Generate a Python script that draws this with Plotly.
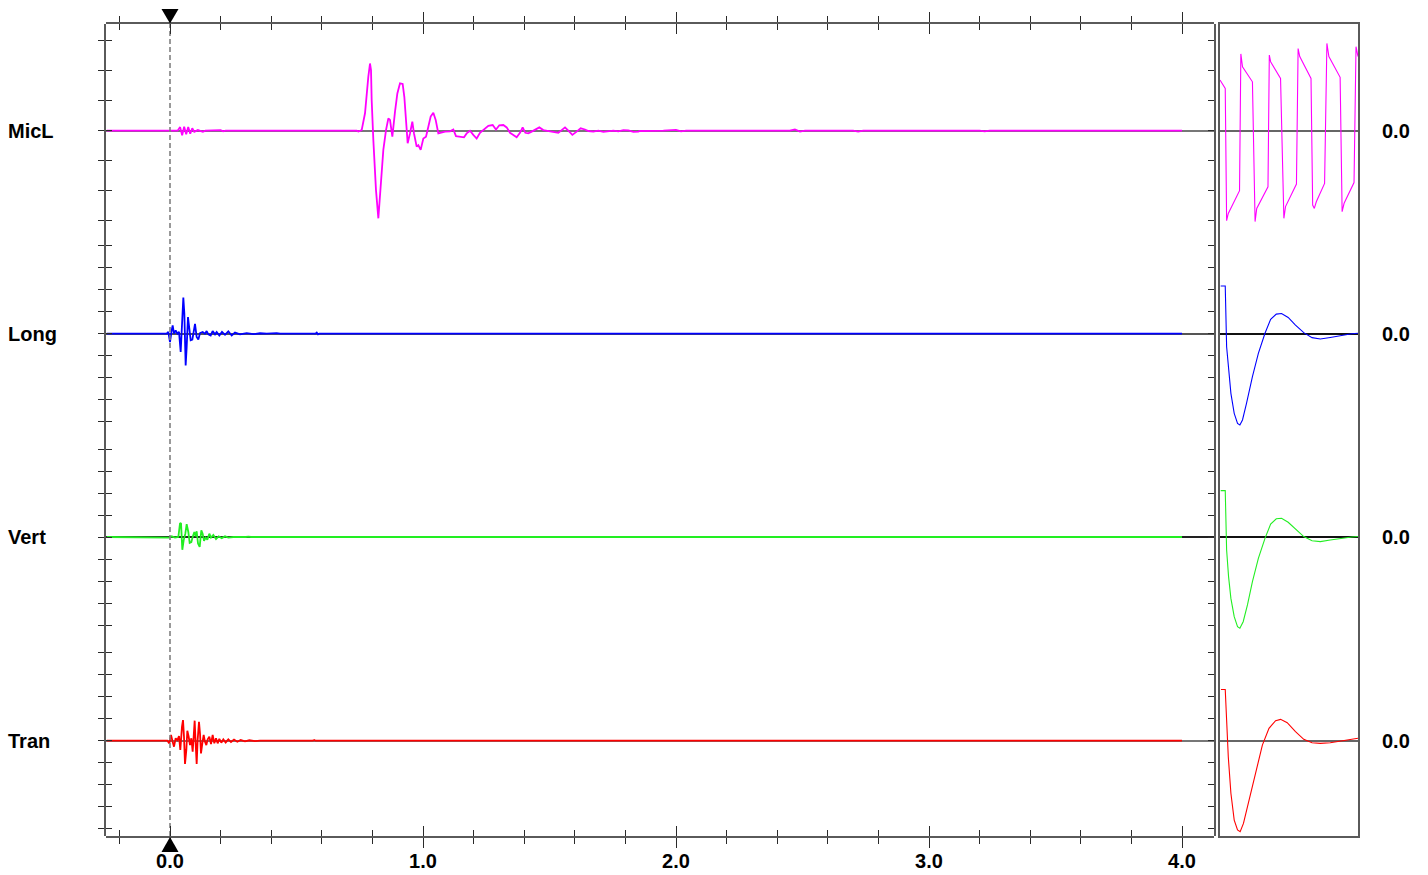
import plotly.graph_objects as go

# ---------------- data ----------------
channels = ["MicL", "Long", "Vert", "Tran"]
colors = ["#ff00ff", "#0000ff", "#22ee22", "#ff0000"]
x_ticks = [0, 1, 2, 3, 4]
x_tick_labels = ["0.0", "1.0", "2.0", "3.0", "4.0"]
right_labels = ["0.0", "0.0", "0.0", "0.0"]
cursor_t = 0.0

micl_t = [-0.25, 0.030, 0.040, 0.048, 0.056, 0.064, 0.072, 0.080, 0.088, 0.096, 0.110, 0.130, 0.140, 0.200, 0.210, 0.220,
          0.7378, 0.7444, 0.7576, 0.7708, 0.7839, 0.7905, 0.7945, 0.7971, 0.8037, 0.8142,
          0.8235, 0.8327, 0.8432, 0.8538, 0.8630, 0.8696, 0.8788, 0.8893, 0.8986, 0.9091,
          0.9196, 0.9262, 0.9328, 0.9394, 0.9486, 0.9578, 0.9644, 0.9750, 0.9816, 0.9908,
          1.0013, 1.0119, 1.0211, 1.0303, 1.0408, 1.0501, 1.0606, 1.0711, 1.0870, 1.1067,
          1.1199, 1.1304, 1.1462, 1.1621, 1.1726, 1.1858, 1.1989, 1.2121, 1.2253, 1.2411,
          1.2582, 1.2754, 1.2885, 1.3017, 1.3175, 1.3307, 1.3439, 1.3571, 1.3702, 1.3834,
          1.3939, 1.4045, 1.4163, 1.4295, 1.4427, 1.4598, 1.4756, 1.4888, 1.5152, 1.5349,
          1.5481, 1.5613, 1.5744, 1.5903, 1.6074, 1.6232, 1.6403, 1.6535, 1.6733, 1.6930,
          1.7128, 1.7326, 1.7523, 1.7721, 1.7918, 1.8116, 1.8314, 1.8511, 1.8577, 1.95,
          2.00, 2.02, 2.04, 2.45, 2.47, 2.49, 2.51, 2.70, 2.72, 2.74,
          2.90, 2.92, 2.94, 3.20, 3.22, 3.24, 4.0]
micl_v = [0, 0, 0.12, -0.15, 0.13, -0.12, 0.12, -0.10, 0.08, -0.04, 0.02, -0.04, 0, 0.02, -0.02, 0,
          0, -0.03, 0.02, 0.58, 1.80, 2.24, 2.02, 1.02, -0.31, -1.98,
          -2.92, -1.98, -0.64, 0.02, 0.41, 0.36, -0.20, 0.63, 1.24, 1.58,
          1.56, 1.13, 0.24, -0.42, -0.09, 0.30, -0.09, -0.53, -0.48, -0.64,
          -0.26, -0.20, 0.13, 0.47, 0.60, 0.36, -0.09, -0.07, -0.03, -0.02,
          0.04, -0.18, -0.20, -0.22, -0.09, 0.00, -0.14, -0.26, -0.07, 0.04,
          0.16, 0.19, 0.04, 0.18, 0.19, 0.11, -0.07, -0.14, -0.22, -0.07,
          0.11, -0.07, -0.09, -0.03, 0.04, 0.11, 0.02, 0.00, -0.03, -0.07,
          0.02, 0.11, 0.00, -0.14, -0.03, 0.08, 0.04, -0.01, -0.03, 0.00,
          -0.04, -0.03, 0.00, -0.02, 0.02, 0.01, -0.04, -0.03, -0.01, 0.00,
          0.03, -0.02, 0.00, 0.00, 0.04, -0.03, 0.00, 0.00, -0.03, 0.00,
          0.00, 0.02, 0.00, 0.00, -0.02, 0.00, 0.00]

long_t = [-0.25, -0.013, -0.0066, 0.0, 0.0066, 0.0105, 0.0158, 0.0224, 0.0290, 0.0356,
          0.0422, 0.0474, 0.0527, 0.0567, 0.0619, 0.0659, 0.0711, 0.0764, 0.0817, 0.0883,
          0.0922, 0.0988, 0.1054, 0.1120, 0.1186, 0.1291, 0.1383, 0.1449, 0.1515, 0.1607,
          0.1686, 0.1779, 0.1845, 0.1950, 0.2055, 0.2174, 0.2306, 0.2438, 0.2569, 0.2767,
          0.3030, 0.3294, 0.3557, 0.3821, 0.4216, 0.4348, 0.575, 0.580, 0.585, 0.590, 4.0]
long_v = [0, 0, 0.08, -0.38, 0.15, 0.38, 0.0, 0.15, 0.0, 0.08,
          -0.83, 0.61, 1.64, 0.91, -1.44, -0.61, 0.76, 0.23, -0.30, -0.27,
          0.0, 0.45, -0.15, -0.27, 0.03, 0.08, 0.0, 0.12, -0.03, -0.08,
          0.12, -0.03, 0.08, -0.08, 0.08, -0.05, 0.11, -0.08, 0.05, -0.03,
          0.03, -0.02, 0.02, 0.0, 0.03, 0.0, 0.0, 0.05, -0.03, 0.0, 0.0]

vert_t = [-0.25, -0.013, -0.0026, 0.0066, 0.0198, 0.0329, 0.0395, 0.0435, 0.0487, 0.0540,
          0.0606, 0.0659, 0.0725, 0.0777, 0.0843, 0.0896, 0.0962, 0.1014, 0.1054, 0.1107,
          0.1173, 0.1238, 0.1291, 0.1344, 0.1410, 0.1476, 0.1555, 0.1621, 0.1713, 0.1818,
          0.1924, 0.2042, 0.2174, 0.2306, 0.2503, 0.30, 0.31, 0.32, 4.0]
vert_v = [0, 0, -0.03, 0.03, -0.03, 0.0, 0.61, 0.64, -0.58, -0.15,
          0.15, 0.58, 0.23, -0.27, -0.23, 0.0, 0.23, 0.03, 0.26, -0.30,
          -0.45, 0.30, 0.15, -0.18, -0.03, -0.12, 0.15, -0.03, 0.09, -0.09,
          0.03, -0.05, 0.03, -0.03, 0.0, 0.0, 0.02, 0.0, 0.0]

tran_t = [-0.25, -0.0105, -0.0026, 0.0040, 0.0105, 0.0158, 0.0224, 0.0290, 0.0356, 0.0408,
          0.0474, 0.0514, 0.0553, 0.0593, 0.0646, 0.0685, 0.0738, 0.0791, 0.0843, 0.0896,
          0.0935, 0.0975, 0.1014, 0.1054, 0.1093, 0.1146, 0.1186, 0.1225, 0.1278, 0.1331,
          0.1383, 0.1436, 0.1489, 0.1555, 0.1621, 0.1686, 0.1752, 0.1818, 0.1884, 0.1950,
          0.2029, 0.2108, 0.2200, 0.2306, 0.2411, 0.2530, 0.2661, 0.2793, 0.2964, 0.3136,
          0.3360, 0.3557, 0.565, 0.570, 0.575, 4.0]
tran_v = [0, 0, -0.12, 0.26, -0.05, -0.27, 0.11, 0.03, 0.21, -0.42,
          0.64, 0.94, 0.18, -1.06, -0.42, 0.45, 0.18, -0.20, 0.11, -0.50,
          0.18, 0.91, -0.12, -1.06, 0.03, 0.86, 0.33, -0.58, -0.12, 0.26,
          -0.05, -0.20, 0.06, 0.18, -0.15, 0.26, -0.12, 0.11, -0.12, 0.08,
          -0.09, 0.06, -0.08, 0.06, -0.06, 0.05, -0.05, 0.03, -0.03, 0.02,
          -0.02, 0.0, 0.0, 0.03, 0.0, 0.0]

# right-hand detail panel
zoom_range = [0, 10]
zmicl_u = [0.0, 0.38, 0.48, 0.60, 1.415, 1.511, 1.631, 2.35, 2.542, 2.662, 3.477, 3.573, 3.669, 4.388, 4.628, 4.748,
           5.540, 5.660, 5.779, 6.595, 6.715, 6.835, 6.978, 7.578, 7.746, 7.890, 8.705, 8.849, 8.993, 9.712, 9.856, 10.0]
zmicl_v = [1.69, 1.41, -3.00, -2.76, -2.00, 2.56, 2.13, 1.63, -3.03, -2.59, -1.87, 2.52, 2.30, 1.74, -2.92, -2.53,
           -1.78, 2.74, 2.47, 1.74, -2.48, -2.59, -2.37, -1.76, 2.91, 2.47, 1.78, -2.70, -2.42, -1.73, 2.80, 2.47]
zlong_u = [0.05, 0.38, 0.48, 0.62, 0.79, 1.03, 1.27, 1.44, 1.63, 1.92, 2.35, 2.78, 3.26, 3.67, 4.08, 4.46,
           4.94, 5.47, 6.07, 6.67, 7.27, 7.99, 8.83, 9.54, 10.0]
zlong_v = [2.17, 2.17, -0.59, -1.65, -2.71, -3.62, -4.08, -4.15, -3.92, -3.17, -1.95, -0.89, 0.02, 0.65, 0.89, 0.92,
           0.74, 0.39, 0.05, -0.18, -0.24, -0.17, -0.06, 0.0, 0.02]
zvert_u = [0.05, 0.38, 0.48, 0.62, 0.79, 1.03, 1.27, 1.44, 1.68, 1.99, 2.35, 2.78, 3.26, 3.67, 4.08, 4.46,
           4.94, 5.47, 6.07, 6.67, 7.27, 7.99, 8.83, 9.54, 10.0]
zvert_v = [2.11, 2.11, -0.59, -1.80, -2.79, -3.62, -4.08, -4.15, -3.85, -3.09, -2.03, -0.97, -0.06, 0.59, 0.83, 0.85,
           0.67, 0.35, 0.02, -0.17, -0.21, -0.14, -0.05, 0.0, 0.02]
ztran_u = [0.07, 0.38, 0.48, 0.60, 0.79, 1.03, 1.27, 1.46, 1.70, 2.11, 2.59, 3.07, 3.55, 4.03, 4.39, 4.87,
           5.47, 6.07, 6.67, 7.27, 7.99, 8.83, 9.42, 10.0]
ztran_v = [2.33, 2.33, 0.94, -0.73, -2.39, -3.61, -4.06, -4.14, -3.76, -2.70, -1.33, -0.20, 0.56, 0.91, 0.97, 0.82,
           0.41, 0.06, -0.09, -0.12, -0.09, 0.0, 0.08, 0.11]

main_series = [(micl_t, micl_v), (long_t, long_v), (vert_t, vert_v), (tran_t, tran_v)]
zoom_series = [(zmicl_u, zmicl_v), (zlong_u, zlong_v), (zvert_u, zvert_v), (ztran_u, ztran_v)]
channel_ticks = [[-3, -2, -1, 0, 1, 2, 3], list(range(-4, 5)), list(range(-4, 5)), list(range(-4, 5))]

# ---------------- layout geometry ----------------
FIG_W, FIG_H = 1428, 875
L_PX, R_PX, T_PX, B_PX = 106, 70, 24, 39
PW = FIG_W - L_PX - R_PX
PH = FIG_H - T_PX - B_PX


def fx(px):
    return (px - L_PX) / PW


def fy(py):
    return (FIG_H - B_PX - py) / PH


band_px = [(24, 232), (232, 435.5), (435.5, 639), (639, 836)]
zero_px = [130.7, 333.7, 537.0, 740.7]
unit_px = [30, 22, 22, 22]
main_zero_col = ["#777777", "#555555", "#222222", "#777777"]
zoom_zero_col = ["#666666", "#111111", "#111111", "#666666"]

LINE_COL = "#5a5a5a"
TICK_COL = "#2a2a2a"
FONT = "Liberation Sans, Arial, sans-serif"

MAIN_RIGHT_PX = 1214
ZOOM_LEFT_PX = 1220
main_dom = [0, fx(MAIN_RIGHT_PX)]
zoom_dom = [fx(ZOOM_LEFT_PX), 1]
x_range = [-(170 - L_PX) / 253.0, (MAIN_RIGHT_PX - 170) / 253.0]

fig = go.Figure()

# main traces
for i, (t, v) in enumerate(main_series):
    fig.add_trace(go.Scatter(x=t, y=v, mode="lines", xaxis="x", yaxis="y" if i == 0 else f"y{i+1}",
                             line=dict(color=colors[i], width=1.8), hoverinfo="skip", showlegend=False))
# zoom traces
for i, (u, v) in enumerate(zoom_series):
    fig.add_trace(go.Scatter(x=u, y=v, mode="lines", xaxis="x2", yaxis=f"y{i+5}",
                             line=dict(color=colors[i], width=1.1), hoverinfo="skip", showlegend=False))

# cursor line (full-height axis y9)
fig.add_trace(go.Scatter(x=[cursor_t, cursor_t], y=[0, 1], mode="lines", xaxis="x", yaxis="y9",
                         line=dict(color="#808080", width=1.6, dash="5px,3px"),
                         hoverinfo="skip", showlegend=False))
# helper traces so that overlay / frame axes have subplots
for xa, ya in [("x3", "y9"), ("x2", "y10"), ("x", "y11"), ("x", "y12"), ("x", "y13"), ("x", "y14")]:
    fig.add_trace(go.Scatter(x=[None], y=[None], xaxis=xa, yaxis=ya, mode="lines",
                             hoverinfo="skip", showlegend=False))

layout = dict(
    template="none",
    width=FIG_W, height=FIG_H,
    margin=dict(l=L_PX, r=R_PX, t=T_PX, b=B_PX, pad=0, autoexpand=False),
    paper_bgcolor="white", plot_bgcolor="rgba(255,255,255,0)",
    font=dict(family=FONT, color="black", size=20),
    showlegend=False,
)

common_x = dict(range=x_range, showgrid=False, zeroline=False, tickvals=x_ticks, automargin=False,
                tickwidth=1, tickcolor=TICK_COL, ticklen=10, mirror="ticks")
layout["xaxis"] = dict(domain=main_dom, anchor="y9", ticks="outside", showline=True, linecolor=LINE_COL,
                       linewidth=2, ticktext=x_tick_labels, ticklabelstandoff=-4,
                       tickfont=dict(family=FONT, size=20, color="black", weight="bold"),
                       minor=dict(ticks="outside", ticklen=6, tick0=0, dtick=0.2, tickcolor=TICK_COL,
                                  tickwidth=1, showgrid=False),
                       **common_x)
layout["xaxis3"] = dict(overlaying="x", anchor="y9", ticks="inside", showline=True, linecolor=LINE_COL,
                        linewidth=2, showticklabels=False,
                        minor=dict(ticks="inside", ticklen=6, tick0=0, dtick=0.2, tickcolor=TICK_COL,
                                   tickwidth=1, showgrid=False),
                        **common_x)
layout["xaxis2"] = dict(domain=zoom_dom, anchor="y10", range=zoom_range, showline=True, mirror=True,
                        linecolor=LINE_COL, linewidth=2, ticks="", showticklabels=False,
                        showgrid=False, zeroline=False, automargin=False)
layout["yaxis9"] = dict(domain=[0, 1], anchor="x", range=[0, 1], showline=False, ticks="",
                        showticklabels=False, showgrid=False, zeroline=False, automargin=False)
layout["yaxis10"] = dict(domain=[0, 1], anchor="x2", range=[0, 1], showline=True, mirror=True,
                         linecolor=LINE_COL, linewidth=2, ticks="", showticklabels=False,
                         showgrid=False, zeroline=False, automargin=False)

for i in range(4):
    top, bot = band_px[i]
    dom = [fy(bot), fy(top)]
    rng = [-(bot - zero_px[i]) / unit_px[i], (zero_px[i] - top) / unit_px[i]]
    key = "yaxis" if i == 0 else f"yaxis{i+1}"
    layout[key] = dict(domain=dom, anchor="x", range=rng, tickvals=channel_ticks[i], ticks="inside",
                       ticklen=6, tickwidth=1, tickcolor=TICK_COL, mirror="ticks", showline=True,
                       linecolor=LINE_COL, linewidth=2, showticklabels=False, showgrid=False,
                       zeroline=True, zerolinecolor=main_zero_col[i], zerolinewidth=1.5, automargin=False)
    layout[f"yaxis{i+11}"] = dict(overlaying="y" if i == 0 else f"y{i+1}", anchor="x", range=rng,
                                  tickvals=channel_ticks[i], ticks="outside", ticklen=6, tickwidth=1,
                                  tickcolor=TICK_COL, showline=True, linecolor=LINE_COL, linewidth=2,
                                  showticklabels=False, showgrid=False, zeroline=False, automargin=False)
    layout[f"yaxis{i+5}"] = dict(domain=dom, anchor="x2", range=rng, showline=False, ticks="",
                                 showticklabels=False, showgrid=False, automargin=False,
                                 zeroline=True, zerolinecolor=zoom_zero_col[i], zerolinewidth=1.5)

fig.update_layout(**layout)

# channel names (left) and zero labels (right)
for i, name in enumerate(channels):
    yref = "y" if i == 0 else f"y{i+1}"
    fig.add_annotation(text=name, xref="paper", yref=yref, x=fx(6), y=0, xanchor="left", yanchor="middle",
                       showarrow=False, font=dict(family=FONT, size=20, color="black", weight="bold"))
    fig.add_annotation(text=right_labels[i], xref="paper", yref=yref, x=fx(1380), y=0, xanchor="left",
                       yanchor="middle", showarrow=False,
                       font=dict(family=FONT, size=20, color="black", weight="bold"))

# cursor triangles
px_per_unit = (fx(MAIN_RIGHT_PX) * PW) / (x_range[1] - x_range[0])
hw = 8.5 / px_per_unit
fig.add_shape(type="path", xref="x", yref="paper", fillcolor="black", line=dict(width=0),
              path=f"M {cursor_t - hw},{fy(9)} L {cursor_t + hw},{fy(9)} L {cursor_t},{fy(23.5)} Z")
fig.add_shape(type="path", xref="x", yref="paper", fillcolor="black", line=dict(width=0),
              path=f"M {cursor_t - hw},{fy(852)} L {cursor_t + hw},{fy(852)} L {cursor_t},{fy(837)} Z")

fig.write_html("out.html", config={"displayModeBar": False},
               post_script="document.body.style.margin='0px';")
